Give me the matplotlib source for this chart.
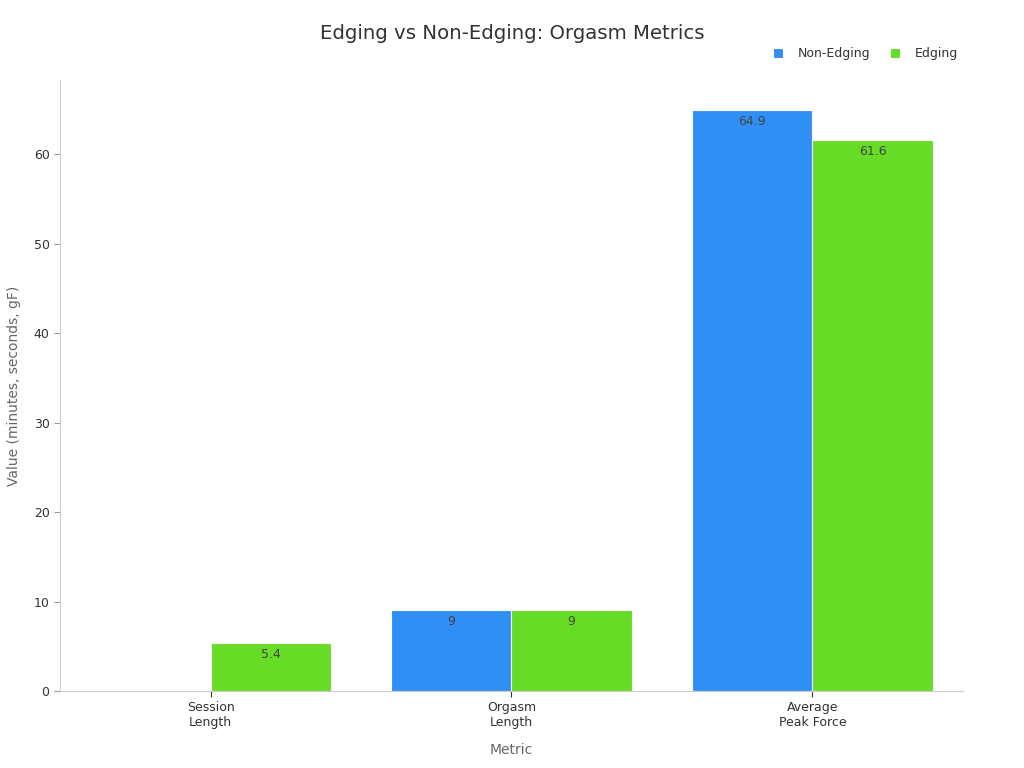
import numpy as np
import matplotlib
matplotlib.use("Agg")
import matplotlib.pyplot as plt

categories = ["Session\nLength", "Orgasm\nLength", "Average\nPeak Force"]
non_edging = [0, 9, 64.9]
edging = [5.4, 9, 61.6]
series_names = ["Non-Edging", "Edging"]
colors = ["#2f8ff5", "#66dc26"]

plt.rcParams['font.family'] = ['DejaVu Sans']

fig = plt.figure(figsize=(10.24, 7.68), dpi=100)
ax = fig.add_axes([0.0586, 0.1003, 0.8818, 0.7955])

x = np.arange(len(categories))
w = 0.4
b1 = ax.bar(x - w / 2, non_edging, w, color=colors[0], edgecolor="white", linewidth=0.8, label=series_names[0])
b2 = ax.bar(x + w / 2, edging, w, color=colors[1], edgecolor="white", linewidth=0.8, label=series_names[1])

# value labels just inside the top of each bar
for bars, vals in [(b1, non_edging), (b2, edging)]:
    for rect, v in zip(bars, vals):
        if v == 0:
            continue
        lab = "%g" % v
        ax.annotate(lab, (rect.get_x() + rect.get_width() / 2, v), xytext=(0, -3.5),
                    textcoords="offset points", ha="center", va="top",
                    fontsize=9, color="#444444")

ax.set_xlim(-0.5, 2.5)
ax.set_ylim(0, 68.3)
ax.set_xticks(x)
ax.set_xticklabels(categories, fontsize=9, color="#333333")
ax.set_yticks([0, 10, 20, 30, 40, 50, 60])
ax.tick_params(axis="y", labelsize=9, colors="#333333", length=4, color="#999999")
ax.tick_params(axis="x", length=4, color="#333333")

for s in ["top", "right"]:
    ax.spines[s].set_visible(False)
for s in ["left", "bottom"]:
    ax.spines[s].set_color("#cccccc")

ax.set_xlabel("Metric", fontsize=10, color="#666666", labelpad=10)
ax.set_ylabel("Value (minutes, seconds, gF)", fontsize=10, color="#666666", labelpad=9)

fig.text(0.5, 0.957, "Edging vs Non-Edging: Orgasm Metrics", ha="center", va="center",
         fontsize=14.2, color="#333333")

leg = fig.legend(loc="center right", bbox_to_anchor=(0.947, 0.930), ncol=2, frameon=False,
                 fontsize=9, handlelength=0.8, handleheight=0.8, columnspacing=1.6,
                 handletextpad=1.2)
for t in leg.get_texts():
    t.set_color("#333333")

fig.savefig("out.png", dpi=100)
